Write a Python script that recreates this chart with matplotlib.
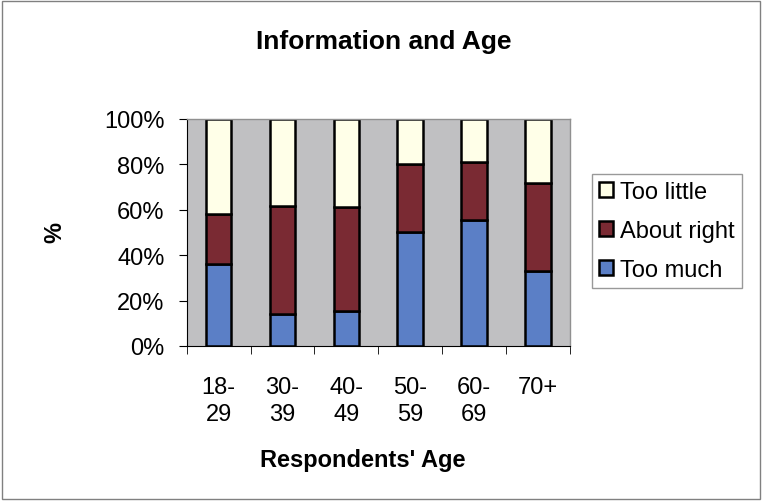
import numpy as np
from matplotlib import pyplot as plt

plt.rcParams['font.family'] = ['Liberation Sans', 'DejaVu Sans']

# data per kelompok umur (persen)
umur = ['18-\n29', '30-\n39', '40-\n49', '50-\n59', '60-\n69', '70+']
too_much = [36, 14, 15.5, 50, 55.5, 33]
about_right = [22, 47.5, 45.5, 30, 25.5, 39]
too_little = [42, 38.5, 39, 20, 19, 28]

warna_much = '#5B7FC6'
warna_right = '#7A2A33'
warna_little = '#FFFFE8'

fig = plt.figure(figsize=(7.62, 5.02), dpi=100)
fig.patch.set_facecolor('white')
# bingkai luar gambar
fig.patches.append(plt.Rectangle((0.003, 0.004), 0.994, 0.992, transform=fig.transFigure,
                                 fill=False, edgecolor='#808080', linewidth=1))

ax = fig.add_axes([0.245, 0.309, 0.503, 0.452])
ax.set_facecolor('#C0C0C2')

x = np.arange(len(umur))
lebar = 0.4
bawah2 = np.array(too_much)
bawah3 = bawah2 + np.array(about_right)
b1 = ax.bar(x, too_much, lebar, color=warna_much, edgecolor='black', linewidth=1.8)
b2 = ax.bar(x, about_right, lebar, bottom=bawah2, color=warna_right, edgecolor='black', linewidth=1.8)
b3 = ax.bar(x, too_little, lebar, bottom=bawah3, color=warna_little, edgecolor='black', linewidth=1.8)

ax.set_xlim(-0.5, len(umur) - 0.5)
ax.set_ylim(0, 100)
ax.set_yticks(np.arange(0, 101, 20))
ax.set_yticklabels([str(v) + '%' for v in range(0, 101, 20)], fontsize=17)
ax.set_xticks(x)
ax.set_xticklabels(umur, fontsize=17, linespacing=1.25)
ax.set_xticks(np.arange(-0.5, len(umur), 1), minor=True)
ax.tick_params(axis='x', which='major', length=0, pad=22)
ax.tick_params(axis='x', which='minor', length=6, direction='out', color='black')
ax.tick_params(axis='y', length=6, direction='out', color='black', pad=10)

for s in ['top', 'right']:
    ax.spines[s].set_color('#909090')
    ax.spines[s].set_linewidth(1)
ax.spines['left'].set_color('black')
ax.spines['bottom'].set_color('black')

fig.text(384 / 762, 1 - 42 / 502, 'Information and Age', fontsize=19, fontweight='bold',
         ha='center', va='center')
ax.set_xlabel("Respondents' Age", fontsize=17, fontweight='bold', va='center')
ax.xaxis.set_label_coords(0.46, -0.50)
ax.set_ylabel('%', fontsize=17, fontweight='bold', va='center')
ax.yaxis.set_label_coords(-0.345, 0.505)

leg = fig.legend([b3, b2, b1], ['Too little', 'About right', 'Too much'],
                 loc='upper left', bbox_to_anchor=(592 / 762, 1 - 175 / 502), fontsize=17,
                 frameon=True, fancybox=False, edgecolor='#808080',
                 handlelength=0.6, handleheight=0.6, handletextpad=0.3,
                 labelspacing=0.72, borderpad=0.3, borderaxespad=0)
leg.get_frame().set_linewidth(1)

plt.savefig('out.png', dpi=100)
